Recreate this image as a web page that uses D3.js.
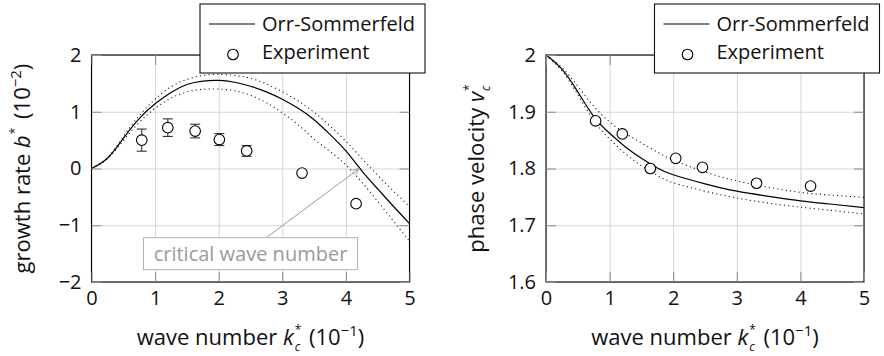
<!DOCTYPE html>
<html>
<head>
<meta charset="utf-8">
<script src="https://cdn.jsdelivr.net/npm/d3@7"></script>
<style>
body { margin: 0; background: #fff; }
text { font-family: "Open Sans", sans-serif; font-size: 20px; fill: #111; }
.grid line { stroke: #d6d6d6; }
.grid path { display: none; }
.tk line { stroke: #8c8c8c; }
.tk path { display: none; }
.lbl path { display: none; }
.axlabel { font-size: 22px; }
</style>
</head>
<body>
<div id="chart"></div>
<script>
var kGrowth = [0, 0.25, 0.5, 0.75, 1, 1.25, 1.5, 1.75, 2, 2.25, 2.5, 2.75, 3, 3.25, 3.5, 3.75, 4, 4.25, 4.5, 4.75, 5];
var growthOS    = [0, 0.18, 0.53, 0.88, 1.14, 1.34, 1.48, 1.54, 1.552, 1.52, 1.45, 1.35, 1.22, 1.06, 0.86, 0.60, 0.31, -0.04, -0.36, -0.67, -0.97];
var growthUpper = [0, 0.19, 0.56, 0.93, 1.22, 1.44, 1.57, 1.64, 1.66, 1.64, 1.59, 1.49, 1.35, 1.19, 0.99, 0.75, 0.48, 0.18, -0.12, -0.40, -0.67];
var growthLower = [0, 0.17, 0.49, 0.81, 1.06, 1.24, 1.35, 1.395, 1.40, 1.37, 1.29, 1.16, 0.98, 0.77, 0.52, 0.30, 0.06, -0.24, -0.58, -0.93, -1.28];

var kPhase = [0, 0.25, 0.5, 0.75, 1, 1.25, 1.5, 1.75, 2, 2.5, 3, 3.5, 4, 4.5, 5];
var phaseOS    = [2.0, 1.975, 1.935, 1.892, 1.862, 1.838, 1.818, 1.801, 1.789, 1.773, 1.760, 1.751, 1.743, 1.737, 1.731];
var phaseUpper = [2.0, 1.978, 1.945, 1.910, 1.882, 1.862, 1.845, 1.829, 1.815, 1.794, 1.778, 1.767, 1.758, 1.753, 1.749];
var phaseLower = [2.0, 1.972, 1.930, 1.885, 1.852, 1.826, 1.805, 1.788, 1.775, 1.760, 1.748, 1.739, 1.732, 1.726, 1.720];

// experiment
var kExpGrowth = [0.79, 1.20, 1.63, 2.01, 2.44, 3.31, 4.16];
var growthExp  = [0.50, 0.72, 0.66, 0.51, 0.31, -0.08, -0.62];
var growthErr  = [0.195, 0.155, 0.12, 0.105, 0.095, 0, 0];
var kExpPhase  = [0.78, 1.20, 1.64, 2.04, 2.46, 3.31, 4.16];
var phaseExp   = [1.884, 1.861, 1.800, 1.818, 1.802, 1.774, 1.769];

var xTicks = [0, 1, 2, 3, 4, 5];
var growthTicks = [-2, -1, 0, 1, 2];
var phaseTicks = [1.6, 1.7, 1.8, 1.9, 2.0];

var critical = {k: 4.21, v: 0, labelK: 2.5, labelV: -1.5, text: "critical wave number"};

var svg = d3.select("#chart").append("svg")
    .attr("width", 884)
    .attr("height", 356);

var top0 = 55, bot0 = 282;

function pts(ks, vs) {
    return ks.map(function(k, i) { return [k, vs[i]]; });
}

// k with stacked * (superscript) and c (subscript)
function starSub(t, sub) {
    t.append("tspan").attr("font-size", "12px").attr("dx", 1).attr("dy", -11).text("*");
    if (sub) {
        t.append("tspan").attr("font-size", "12px").attr("font-style", "italic")
            .attr("dx", -6.6).attr("dy", 17).text(sub);
        return 6;
    }
    return -11;
}

function panel(o) {
    var x = d3.scaleLinear().domain([0, 5]).range([o.left, o.left + 318]);
    var y = d3.scaleLinear().domain(o.yDomain).range([bot0, top0]);
    var w = 318, h = bot0 - top0;
    var g = svg.append("g");

    // grid
    g.append("g").attr("class", "grid")
        .attr("transform", "translate(0," + bot0 + ")")
        .call(d3.axisBottom(x).tickValues(xTicks).tickSize(-h).tickFormat(""));
    g.append("g").attr("class", "grid")
        .attr("transform", "translate(" + o.left + ",0)")
        .call(d3.axisLeft(y).tickValues(o.yTicks).tickSize(-w).tickFormat(""));

    var line = d3.line()
        .x(function(d) { return x(d[0]); })
        .y(function(d) { return y(d[1]); })
        .curve(d3.curveNatural);

    g.append("path").datum(pts(o.k, o.upper))
        .attr("d", line).attr("fill", "none").attr("stroke", "#111")
        .attr("stroke-width", 1.1).attr("stroke-dasharray", "1.1 3.2");
    g.append("path").datum(pts(o.k, o.lower))
        .attr("d", line).attr("fill", "none").attr("stroke", "#111")
        .attr("stroke-width", 1.1).attr("stroke-dasharray", "1.1 3.2");
    g.append("path").datum(pts(o.k, o.os))
        .attr("d", line).attr("fill", "none").attr("stroke", "#000")
        .attr("stroke-width", 1.2);

    // error bars
    if (o.err) {
        var eb = g.selectAll(".eb").data(o.expK.map(function(k, i) { return {k: k, v: o.expV[i], e: o.err[i]}; })
                .filter(function(d) { return d.e > 0; }))
            .enter().append("g").attr("class", "eb")
            .attr("stroke", "#333").attr("stroke-width", 1.1);
        eb.append("line")
            .attr("x1", function(d) { return x(d.k); }).attr("x2", function(d) { return x(d.k); })
            .attr("y1", function(d) { return y(d.v + d.e); }).attr("y2", function(d) { return y(d.v - d.e); });
        eb.append("line")
            .attr("x1", function(d) { return x(d.k) - 5; }).attr("x2", function(d) { return x(d.k) + 5; })
            .attr("y1", function(d) { return y(d.v + d.e); }).attr("y2", function(d) { return y(d.v + d.e); });
        eb.append("line")
            .attr("x1", function(d) { return x(d.k) - 5; }).attr("x2", function(d) { return x(d.k) + 5; })
            .attr("y1", function(d) { return y(d.v - d.e); }).attr("y2", function(d) { return y(d.v - d.e); });
    }

    g.selectAll(".dot").data(pts(o.expK, o.expV))
        .enter().append("circle").attr("class", "dot")
        .attr("cx", function(d) { return x(d[0]); })
        .attr("cy", function(d) { return y(d[1]); })
        .attr("r", 5.3)
        .attr("fill", "#fff").attr("stroke", "#000").attr("stroke-width", 1.1);

    if (o.note) o.note(g, x, y);

    // frame + inner ticks
    g.append("rect").attr("x", o.left).attr("y", top0).attr("width", w).attr("height", h)
        .attr("fill", "none").attr("stroke", "#000").attr("stroke-width", 1.1);
    g.append("g").attr("class", "tk").attr("transform", "translate(0," + bot0 + ")")
        .call(d3.axisBottom(x).tickValues(xTicks).tickSize(-10).tickFormat(""));
    g.append("g").attr("class", "tk").attr("transform", "translate(0," + top0 + ")")
        .call(d3.axisTop(x).tickValues(xTicks).tickSize(-10).tickFormat(""));
    g.append("g").attr("class", "tk").attr("transform", "translate(" + o.left + ",0)")
        .call(d3.axisLeft(y).tickValues(o.yTicks).tickSize(-10).tickFormat(""));
    g.append("g").attr("class", "tk").attr("transform", "translate(" + (o.left + w) + ",0)")
        .call(d3.axisRight(y).tickValues(o.yTicks).tickSize(-10).tickFormat(""));

    // tick labels
    g.append("g").attr("class", "lbl").attr("transform", "translate(0," + bot0 + ")")
        .call(d3.axisBottom(x).tickValues(xTicks).tickSize(0).tickPadding(9).tickFormat(d3.format("d")));
    g.append("g").attr("class", "lbl").attr("transform", "translate(" + o.left + ",0)")
        .call(d3.axisLeft(y).tickValues(o.yTicks).tickSize(0).tickPadding(10).tickFormat(o.fmt));
    g.selectAll(".lbl text").attr("font-size", null).attr("font-family", null).attr("fill", "#111");

    // x label
    var xt = g.append("text").attr("class", "axlabel")
        .attr("x", o.left + w / 2).attr("y", 345).attr("text-anchor", "middle");
    xt.append("tspan").text("wave number ");
    xt.append("tspan").attr("font-style", "italic").text("k");
    var back = starSub(xt, "c");
    xt.append("tspan").attr("dy", -back).attr("dx", 3).text(" (10");
    xt.append("tspan").attr("font-size", "15px").attr("dy", -9).text("\u22121");
    xt.append("tspan").attr("dy", 9).text(")");

    // y label
    var yt = g.append("text").attr("class", "axlabel")
        .attr("transform", "translate(" + o.yLabelX + "," + (top0 + h / 2) + ") rotate(-90)")
        .attr("text-anchor", "middle");
    o.yLabel(yt);

    // legend
    var lg = g.append("g").attr("transform", "translate(" + (o.left + w + 15.5 - 225) + ",4)");
    lg.append("rect").attr("width", 225).attr("height", 69)
        .attr("fill", "#fff").attr("stroke", "#111").attr("stroke-width", 1.1);
    lg.append("line").attr("x1", 9).attr("x2", 55).attr("y1", 20).attr("y2", 20)
        .attr("stroke", "#000").attr("stroke-width", 1.2);
    lg.append("text").attr("x", 62).attr("y", 27).text("Orr-Sommerfeld");
    lg.append("circle").attr("cx", 33).attr("cy", 50.5).attr("r", 5.3)
        .attr("fill", "#fff").attr("stroke", "#000").attr("stroke-width", 1.1);
    lg.append("text").attr("x", 62).attr("y", 55).text("Experiment");
}

function fmtMinus(d) { return d3.format("d")(d).replace("-", "\u2212"); }

panel({
    left: 91.5, yDomain: [-2, 2], yTicks: growthTicks, fmt: fmtMinus,
    k: kGrowth, os: growthOS, upper: growthUpper, lower: growthLower,
    expK: kExpGrowth, expV: growthExp, err: growthErr,
    yLabelX: 30,
    yLabel: function(t) {
        t.append("tspan").text("growth rate ");
        t.append("tspan").attr("font-style", "italic").text("b");
        var back = starSub(t, null);
        t.append("tspan").attr("dy", -back).attr("dx", 3).text(" (10");
        t.append("tspan").attr("font-size", "15px").attr("dy", -9).text("\u22122");
        t.append("tspan").attr("dy", 9).text(")");
    },
    note: function(g, x, y) {
        var bw = 214, bh = 32;
        var cx = x(critical.labelK), cy = y(critical.labelV);
        var ax0 = x(critical.labelK + 0.25), ay0 = cy - bh / 2;
        var ax1 = x(critical.k), ay1 = y(critical.v);
        g.append("line").attr("x1", ax0).attr("y1", ay0).attr("x2", ax1).attr("y2", ay1)
            .attr("stroke", "#9a9a9a").attr("stroke-width", 1);
        var ang = Math.atan2(ay1 - ay0, ax1 - ax0);
        var hl = 7;
        g.append("path")
            .attr("d", "M" + (ax1 - hl * Math.cos(ang - 0.4)) + "," + (ay1 - hl * Math.sin(ang - 0.4)) +
                "L" + ax1 + "," + ay1 +
                "L" + (ax1 - hl * Math.cos(ang + 0.4)) + "," + (ay1 - hl * Math.sin(ang + 0.4)))
            .attr("fill", "none").attr("stroke", "#9a9a9a").attr("stroke-width", 1);
        g.append("rect").attr("x", cx - bw / 2).attr("y", cy - bh / 2).attr("width", bw).attr("height", bh)
            .attr("fill", "#fff").attr("stroke", "#b4b4b4").attr("stroke-width", 1);
        g.append("text").attr("x", cx).attr("y", cy + 7).attr("text-anchor", "middle")
            .style("fill", "#9a9a9a").text(critical.text);
    }
});

panel({
    left: 546, yDomain: [1.6, 2.0], yTicks: phaseTicks, fmt: d3.format("~g"),
    k: kPhase, os: phaseOS, upper: phaseUpper, lower: phaseLower,
    expK: kExpPhase, expV: phaseExp, err: null,
    yLabelX: 484,
    yLabel: function(t) {
        t.append("tspan").text("phase velocity ");
        t.append("tspan").attr("font-style", "italic").text("v");
        starSub(t, "c");
    }
});
</script>
</body>
</html>
